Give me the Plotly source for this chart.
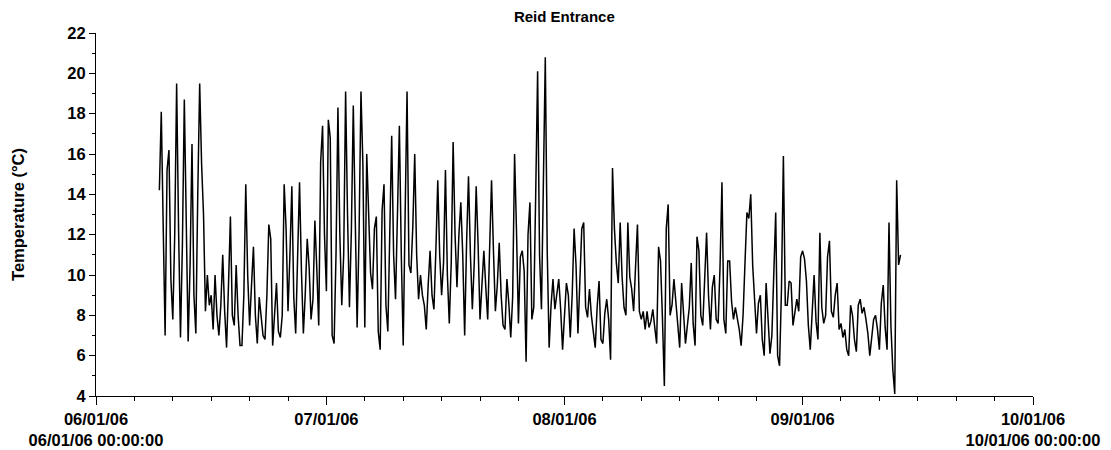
import pandas as pd
import plotly.graph_objects as go

# ---- data (temperature, deg C, sampled every 6 hours) ----
series_start = "2006-06-09 06:00"

june_temps = [
    14.2, 18.1, 12.4,
    7.0, 15.2, 16.2, 9.8,
    7.8, 12.0, 19.5, 12.3,
    6.9, 11.5, 18.7, 12.7,
    6.7, 10.5, 16.5, 9.0,
    7.1, 14.0, 19.5, 15.5,
    13.0, 8.2, 10.0, 8.5,
    9.0, 7.3, 10.0, 8.0,
    7.0, 8.5, 11.0, 8.2,
    6.4, 9.5, 12.9, 8.0,
    7.5, 10.5, 8.0, 6.5,
    6.5, 9.0, 14.5, 10.0,
    7.5, 9.5, 11.4, 8.0,
    6.6, 8.9, 8.0, 7.0,
    6.8, 9.0, 12.5, 11.8,
    6.5, 8.0, 9.6, 7.2,
    6.9, 8.0, 14.5, 12.3,
    8.2, 11.0, 14.4, 8.9,
    7.1, 10.9, 14.6, 10.2,
    7.1, 9.1, 11.8, 10.4,
    7.8, 8.8, 12.7, 10.3,
    7.5, 15.6, 17.4, 12.0,
]

july_temps = [
    9.2, 17.7, 16.8, 7.0,
    6.6, 11.0, 18.3, 12.0,
    8.5, 11.0, 19.1, 13.0,
    8.4, 12.2, 18.4, 12.9,
    7.4, 12.0, 19.1, 15.5,
    7.4, 16.0, 13.4, 10.1,
    9.3, 12.3, 12.9, 7.2,
    6.3, 13.2, 14.5, 8.5,
    7.2, 13.0, 16.9, 11.0,
    8.8, 13.0, 17.4, 11.0,
    6.5, 13.0, 19.1, 10.5,
    10.1, 12.4, 16.0, 11.0,
    8.8, 10.0, 9.0, 8.5,
    7.3, 9.5, 11.2, 9.0,
    8.3, 11.2, 14.7, 11.0,
    9.0, 10.6, 15.2, 10.0,
    7.6, 10.6, 16.6, 12.0,
    9.4, 12.0, 13.6, 11.0,
    7.0, 11.6, 14.9, 11.0,
    8.3, 10.6, 14.4, 11.5,
    7.8, 9.5, 11.2, 9.4,
    7.8, 11.3, 14.7, 11.2,
    8.2, 9.5, 11.6, 9.0,
    7.5, 7.3, 9.8, 8.6,
    6.9, 8.9, 16.0, 12.2,
    7.6, 10.9, 11.2, 10.2,
    5.7, 12.0, 13.6, 7.8,
    8.4, 14.0, 20.1, 11.0,
    8.3, 14.6, 20.8, 11.2,
    6.4, 8.5, 9.8, 8.3,
    9.2, 9.8, 8.3, 6.3,
]

aug_temps = [
    8.0, 9.6, 9.0, 6.9,
    9.0, 12.3, 10.5, 7.1,
    9.7, 12.3, 12.6, 8.4,
    7.9, 9.3, 8.0, 7.2,
    6.4, 8.4, 9.7, 6.8,
    6.6, 8.1, 8.8, 7.8,
    5.8, 15.3, 12.3, 10.6,
    9.6, 12.6, 9.9, 8.4,
    8.0, 12.6, 9.9, 9.3,
    8.2, 10.4, 12.5, 8.2,
    7.8, 8.2, 7.3, 8.2,
    7.4, 7.7, 8.3, 7.4,
    6.6, 11.4, 10.7, 7.9,
    4.5, 12.3, 13.5, 8.0,
    8.5, 9.8, 8.5, 7.5,
    6.4, 9.6, 7.8, 6.6,
    7.5, 8.4, 10.6, 7.6,
    6.5, 11.9, 11.2, 8.0,
    7.5, 10.3, 12.1, 9.0,
    7.3, 9.4, 10.0, 7.8,
    7.6, 10.4, 14.6, 7.8,
    7.1, 10.7, 10.7, 8.7,
    7.8, 8.4, 7.9, 7.3,
    6.5, 8.0, 10.6, 13.1,
    12.8, 14.0, 10.5, 8.6,
    7.1, 8.6, 9.0, 6.8,
    6.0, 9.6, 7.6, 6.1,
    7.0, 10.5, 13.1, 6.0,
    5.5, 9.3, 15.9, 8.5,
    8.5, 9.7, 9.6, 7.5,
    8.2, 8.8, 8.2, 10.9,
]

sep_temps = [
    11.2, 10.8, 9.7, 7.5,
    6.3, 8.4, 10.0, 7.7,
    6.8, 12.1, 8.4, 7.6,
    8.0, 10.9, 11.7, 8.2,
    7.9, 9.0, 9.6, 7.3,
    7.6, 6.9, 7.3, 6.3,
    6.0, 8.5, 8.0, 6.8,
    6.2, 8.5, 8.8, 8.1,
    8.4, 7.8, 7.1, 6.0,
    6.8, 7.8, 8.0, 7.3,
    6.3, 8.6, 9.5, 7.4,
    6.3, 12.6, 7.5, 5.3,
    4.1, 14.7, 10.5, 11.0,
]

month_ticks = ["2006-06-01", "2006-07-01", "2006-08-01", "2006-09-01", "2006-10-01"]
month_labels = [
    "06/01/06<br>06/01/06 00:00:00",
    "07/01/06",
    "08/01/06",
    "09/01/06",
    "10/01/06<br>10/01/06 00:00:00",
]
y_ticks = [4, 6, 8, 10, 12, 14, 16, 18, 20, 22]

# ---- build ----
temps = june_temps + july_temps + aug_temps + sep_temps
times = pd.date_range(series_start, periods=len(temps), freq="6h")

minor_x = []
for m in month_ticks[:-1]:
    base = pd.Timestamp(m)
    for d in (5, 10, 15, 20, 25):
        minor_x.append(base + pd.Timedelta(days=d))

font_family = "Liberation Sans, Arial, sans-serif"

fig = go.Figure(
    go.Scatter(
        x=times,
        y=temps,
        mode="lines",
        line=dict(color="black", width=1.5),
        showlegend=False,
    )
)

fig.update_layout(
    width=1111,
    height=450,
    margin=dict(l=96, r=78, t=33, b=54),
    paper_bgcolor="white",
    plot_bgcolor="white",
    title=dict(
        text="Reid Entrance",
        x=0.508,
        xanchor="center",
        y=0.962,
        yanchor="middle",
        font=dict(family=font_family, size=15, color="black", weight="bold"),
    ),
)

fig.update_xaxes(
    type="date",
    range=["2006-06-01", "2006-10-01"],
    tickmode="array",
    tickvals=month_ticks,
    ticktext=month_labels,
    ticks="outside",
    ticklen=8,
    tickwidth=1,
    tickcolor="black",
    showline=True,
    linecolor="black",
    linewidth=1,
    showgrid=False,
    zeroline=False,
    tickfont=dict(family=font_family, size=16.5, color="black", weight="bold"),
    minor=dict(tickmode="array", tickvals=minor_x, ticks="outside", ticklen=4,
               tickcolor="black", tickwidth=1, showgrid=False),
    automargin=False,
)

fig.update_yaxes(
    range=[4, 22],
    tickmode="array",
    tickvals=y_ticks,
    ticks="outside",
    ticklen=6,
    tickwidth=1,
    tickcolor="black",
    showline=True,
    linecolor="black",
    linewidth=1,
    showgrid=False,
    zeroline=False,
    tickfont=dict(family=font_family, size=16.5, color="black", weight="bold"),
    minor=dict(dtick=1, tick0=4, ticks="outside", ticklen=3,
               tickcolor="black", tickwidth=1, showgrid=False),
    title=dict(text="Temperature (°C)", standoff=38,
               font=dict(family=font_family, size=16.5, color="black", weight="bold")),
    automargin=False,
)

fig.write_html(
    "out.html",
    config={"displayModeBar": False},
    post_script="document.body.style.margin='0';document.body.style.padding='0';",
)
